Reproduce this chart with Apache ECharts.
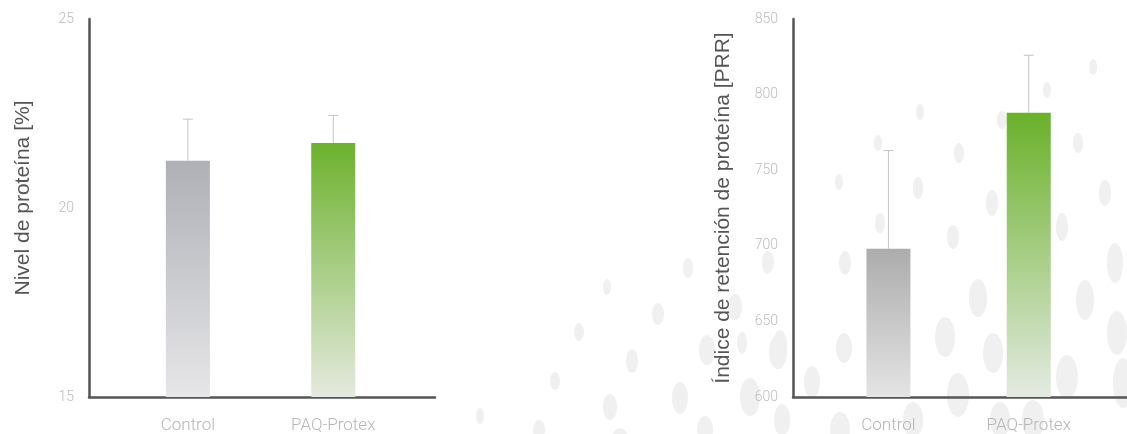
<!DOCTYPE html>
<html>
<head>
<meta charset="utf-8">
<script src="https://cdn.jsdelivr.net/npm/echarts@6/dist/echarts.min.js"></script>
<style>html,body{margin:0;padding:0;background:#fff;}#c{width:1127px;height:434px;}</style>
</head>
<body>
<div id="c"></div>
<script>
// ---- data ----
var categories = ['Control', 'PAQ-Protex'];
var proteinLevel = [21.25, 21.72];      // Nivel de proteína [%]
var proteinLevelErr = [22.35, 22.45];   // upper end of error bar
var retentionIndex = [698, 788];        // Índice de retención de proteína [PRR]
var retentionIndexErr = [763, 826];
var leftTicks = [15, 20, 25];
var rightTicks = [600, 650, 700, 750, 800, 850];

var chart = echarts.init(document.getElementById('c'), null, {renderer: 'canvas'});

function grad(top, bottom) {
  return new echarts.graphic.LinearGradient(0, 0, 0, 1, [
    {offset: 0, color: top}, {offset: 1, color: bottom}
  ]);
}
var colorsLeft = [grad('#aeb0b6', '#e6e6e8'), grad('#6db22d', '#e5e9df')];
var colorsRight = [grad('#acacac', '#e4e4e4'), grad('#6ab12a', '#e4eae2')];

function barData(vals, colors) {
  return vals.map(function (v, i) { return {value: [i + 1, v], itemStyle: {color: colors[i]}}; });
}
function errData(vals, errs) {
  return vals.map(function (v, i) { return [i + 1, v, errs[i]]; });
}
function errRender(params, api) {
  var x = api.value(0);
  var p0 = api.coord([x, api.value(1)]);
  var p1 = api.coord([x, api.value(2)]);
  var st = {stroke: '#c4c4c4', lineWidth: 1};
  return {type: 'group', children: [
    {type: 'line', shape: {x1: p0[0], y1: p0[1], x2: p1[0], y2: p1[1]}, style: st},
    {type: 'line', shape: {x1: p1[0] - 5, y1: p1[1], x2: p1[0] + 5, y2: p1[1]}, style: st}
  ]};
}

var lightFont = 'Roboto, "Liberation Sans", sans-serif';

function xAxisCfg(gi) {
  return {
    type: 'value', gridIndex: gi, min: 0.32, max: 2.7,
    axisLine: {show: true, lineStyle: {color: '#555', width: 2.5}},
    axisTick: {show: false},
    splitLine: {show: false},
    axisLabel: {
      customValues: [1, 2], margin: 20, color: '#b6b6b6', fontSize: 17, fontWeight: 300,
      fontFamily: lightFont,
      formatter: function (v) { return categories[Math.round(v) - 1] || ''; }
    }
  };
}
function yAxisCfg(gi, name, ticks, gap, pad) {
  return {
    type: 'value', gridIndex: gi,
    min: ticks[0], max: ticks[ticks.length - 1], interval: ticks[1] - ticks[0],
    name: name, nameLocation: 'middle', nameRotate: 90, nameGap: gap,
    nameTextStyle: {color: '#555', fontSize: 21, fontFamily: '"Liberation Sans", Arial, sans-serif', padding: pad},
    axisLine: {show: true, lineStyle: {color: '#555', width: 2.5}},
    axisTick: {show: false},
    splitLine: {show: false},
    axisLabel: {color: '#bcbcbc', fontSize: 14, fontWeight: 300, margin: 15, fontFamily: lightFont}
  };
}

// decorative background dots (not data)
var dots = [
  [688,268,5,10],[607,287,4,8],[658,314,6,11],[579,332,5,9],[632,361,6,12],[555,381,5,9],
  [610,407,7,13],[680,398,8,16],[480,416,4,8],[539,430,6,10],[735,307,7,13],[707,350,8,15],
  [750,397,10,19],[778,352,9,17],[768,262,6,11],[920,112,4,8],[1093,67,4,8],[1047,90,4,8],
  [1002,120,5,9],[959,153,5,10],[1078,143,5,10],[878,143,4,8],[918,188,5,11],[839,182,4,8],
  [992,203,6,13],[1105,193,6,13],[880,223,5,10],[953,237,6,12],[945,337,10,20],[978,298,9,19],
  [1115,263,8,20],[1117,333,10,22],[1062,227,6,14],[900,273,7,15],[845,263,6,12],[844,348,8,15],
  [812,382,8,16],[780,345,7,15],[742,343,5,11],[767,263,5,11],[958,395,11,22],[993,353,10,20],
  [1067,377,11,22],[1123,383,10,25],[782,420,8,16],[840,430,10,18],[913,420,10,18],[1033,420,11,20],
  [1085,300,9,20],[1000,420,10,18],[705,430,8,14],[620,440,8,12]
];
var graphics = dots.map(function (d) {
  return {type: 'ellipse', silent: true, z: -10, shape: {cx: d[0], cy: d[1], rx: d[2], ry: d[3]}, style: {fill: '#f0f0f0'}};
});

chart.setOption({
  backgroundColor: '#fff',
  animation: false,
  graphic: graphics,
  grid: [
    {left: 89, top: 19, width: 346, bottom: 37},
    {left: 793, top: 19, width: 346, bottom: 37}
  ],
  xAxis: [xAxisCfg(0), xAxisCfg(1)],
  yAxis: [
    yAxisCfg(0, 'Nivel de proteína [%]', leftTicks, 55, [0, 0, 0, 20]),
    yAxisCfg(1, 'Índice de retención de proteína [PRR]', rightTicks, 59, 0)
  ],
  series: [
    {type: 'bar', xAxisIndex: 0, yAxisIndex: 0, barWidth: 44, data: barData(proteinLevel, colorsLeft), z: 2},
    {type: 'custom', xAxisIndex: 0, yAxisIndex: 0, renderItem: errRender, data: errData(proteinLevel, proteinLevelErr), z: 3},
    {type: 'bar', xAxisIndex: 1, yAxisIndex: 1, barWidth: 44, data: barData(retentionIndex, colorsRight), z: 2},
    {type: 'custom', xAxisIndex: 1, yAxisIndex: 1, renderItem: errRender, data: errData(retentionIndex, retentionIndexErr), z: 3}
  ]
});
</script>
</body>
</html>
